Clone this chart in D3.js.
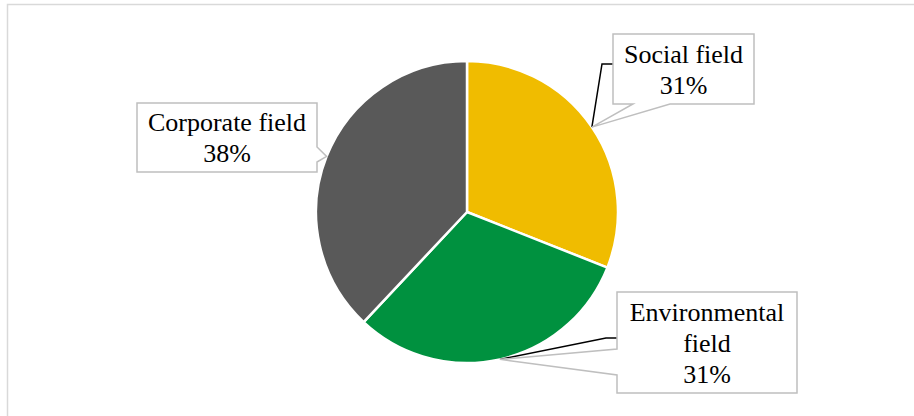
<!DOCTYPE html>
<html><head><meta charset="utf-8">
<script src="https://cdn.jsdelivr.net/npm/d3@7/dist/d3.min.js"></script>
<style>html,body{margin:0;padding:0;background:#fff;overflow:hidden}</style>
</head><body>
<svg id="chart" width="914" height="416"></svg>
<script>
const categories = ["Social field", "Environmental field", "Corporate field"];
const values = [31, 31, 38];
const labelLines = [["Social field", "31%"], ["Environmental", "field", "31%"], ["Corporate field", "38%"]];
const colors = ["#F0BC00", "#00913F", "#595959"];

const svg = d3.select("#chart");
svg.append("rect").attr("x", 7.5).attr("y", 4.5).attr("width", 920).attr("height", 420)
  .attr("fill", "#fff").attr("stroke", "#D9D9D9").attr("stroke-width", 1.5);

const cx = 467, cy = 212, R = 151;
const pie = d3.pie().sort(null).value(d => d)(values);
const arc = d3.arc().innerRadius(0).outerRadius(R);
const anchorArc = d3.arc().innerRadius(R).outerRadius(R);
const g = svg.append("g").attr("transform", `translate(${cx},${cy})`);
g.selectAll("path.slice").data(pie).join("path").attr("class", "slice")
  .attr("d", arc).attr("fill", (d, i) => colors[i])
  .attr("stroke", "#fff").attr("stroke-width", 2.5).attr("stroke-linejoin", "round");

// callout layout: box [x0,y0,x1,y1], wedge side & base, optional black leader
const layout = [
  {box: [613, 34, 754, 104], side: "bottom", base: [633, 670], leader: [[602, 64], [613, 64]]},
  {box: [617, 292, 797, 393], side: "left", base: [349, 375], leader: [[606, 338], [617, 338]]},
  {box: [137, 103, 317, 172], side: "right", base: [147, 162], leader: null}
];

pie.forEach((d, i) => {
  const c = anchorArc.centroid(d);
  const ax = cx + c[0], ay = cy + c[1];
  const L = layout[i];
  const [x0, y0, x1, y1] = L.box;
  let p;
  if (L.side === "bottom") {
    p = `M${x0},${y0}H${x1}V${y1}H${L.base[1]}L${ax},${ay}L${L.base[0]},${y1}H${x0}Z`;
  } else if (L.side === "left") {
    p = `M${x0},${y0}H${x1}V${y1}H${x0}V${L.base[1]}L${ax},${ay}L${x0},${L.base[0]}Z`;
  } else {
    p = `M${x0},${y0}H${x1}V${L.base[0]}L${ax},${ay}L${x1},${L.base[1]}V${y1}H${x0}Z`;
  }
  if (L.leader) {
    const pts = [[ax, ay]].concat(L.leader);
    svg.append("path").attr("d", d3.line()(pts)).attr("fill", "none")
      .attr("stroke", "#000").attr("stroke-width", 1.5);
  }
  svg.append("path").attr("d", p).attr("fill", "#fff")
    .attr("stroke", "#BFBFBF").attr("stroke-width", 1.5).attr("stroke-linejoin", "miter");
  const lines = labelLines[i];
  const midX = (x0 + x1) / 2, midY = (y0 + y1) / 2;
  const lh = 31;
  const t = svg.append("text").attr("font-family", "'Liberation Serif','Times New Roman',serif")
    .attr("font-size", 26).attr("fill", "#000").attr("text-anchor", "middle");
  lines.forEach((s, k) => {
    t.append("tspan").attr("x", midX)
      .attr("y", midY + (k - (lines.length - 1) / 2) * lh + 9).text(s);
  });
});
</script>
</body></html>
